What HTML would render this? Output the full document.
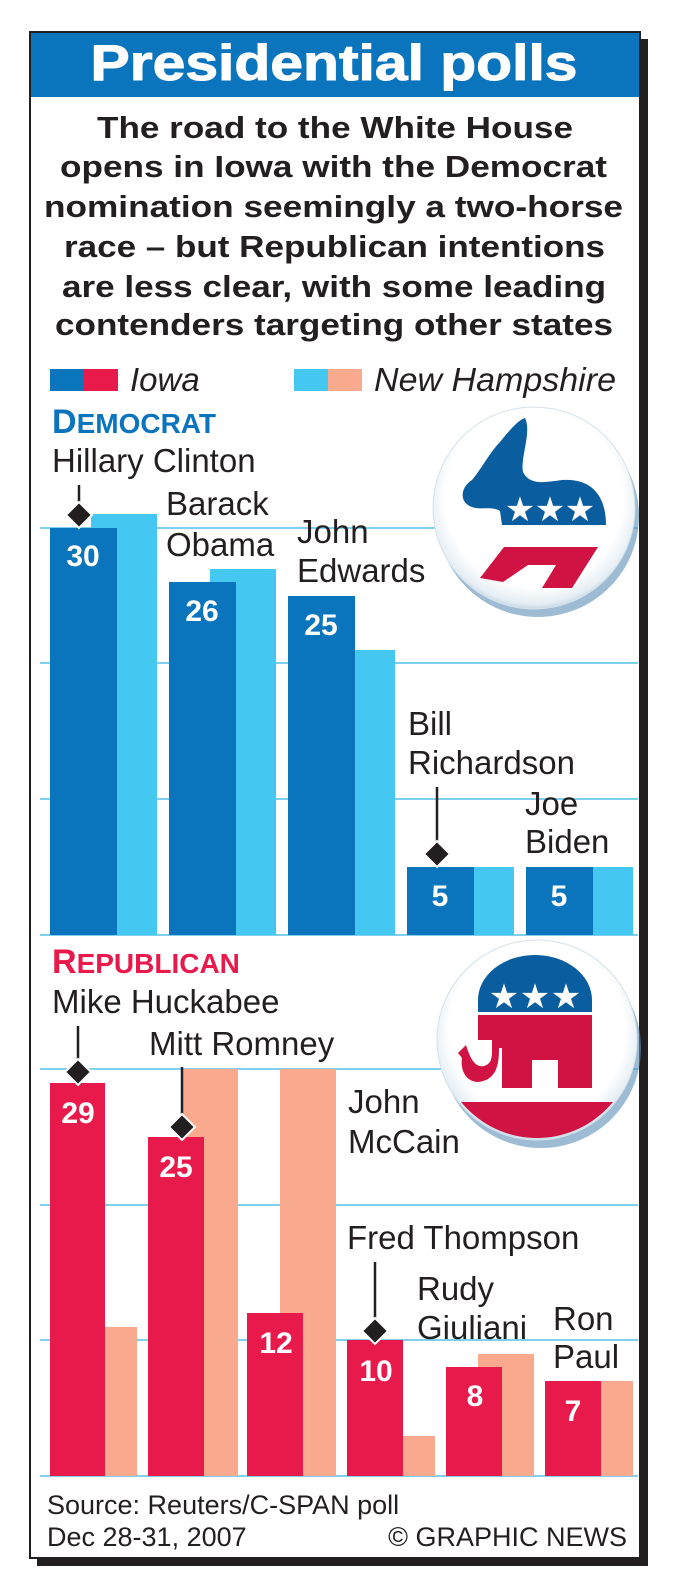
<!DOCTYPE html>
<html><head><meta charset="utf-8"><style>
html,body{margin:0;padding:0;background:#fff;}
svg{display:block;}
text{font-family:"Liberation Sans",Arial,sans-serif;}
</style></head><body>
<svg width="673" height="1594" viewBox="0 0 673 1594" xmlns="http://www.w3.org/2000/svg">
<defs>
<radialGradient id="disc" cx="50%" cy="45%" r="55%">
<stop offset="0.8" stop-color="#ffffff"/><stop offset="0.95" stop-color="#e6eef4"/><stop offset="1" stop-color="#c8d8e4"/>
</radialGradient>
<clipPath id="repclip"><circle cx="537" cy="1040" r="98"/></clipPath>
</defs>
<rect x="37" y="39" width="611" height="1527" fill="#231f20"/>
<rect x="30" y="32" width="610" height="1526" fill="#fff" stroke="#231f20" stroke-width="2"/>
<rect x="31" y="33" width="608" height="64" fill="#0a74bc"/>
<text x="334" y="80" font-size="50" font-weight="bold" fill="#fff" text-anchor="middle" textLength="487" lengthAdjust="spacingAndGlyphs" stroke="#fff" stroke-width="1">Presidential polls</text>
<g font-size="31" font-weight="bold" fill="#231f20" text-anchor="start">
<text x="97" y="138" textLength="476" lengthAdjust="spacingAndGlyphs">The road to the White House</text>
<text x="60" y="177" textLength="547" lengthAdjust="spacingAndGlyphs">opens in Iowa with the Democrat</text>
<text x="44" y="217" textLength="579" lengthAdjust="spacingAndGlyphs">nomination seemingly a two-horse</text>
<text x="64" y="257" textLength="541" lengthAdjust="spacingAndGlyphs">race – but Republican intentions</text>
<text x="62" y="297" textLength="544" lengthAdjust="spacingAndGlyphs">are less clear, with some leading</text>
<text x="55" y="335" textLength="558" lengthAdjust="spacingAndGlyphs">contenders targeting other states</text>
</g>
<rect x="50" y="369" width="34" height="22" fill="#0a74bc"/><rect x="84" y="369" width="34" height="22" fill="#e8194b"/>
<text x="130" y="391" font-size="33" font-style="italic" fill="#231f20">Iowa</text>
<rect x="294" y="369" width="34" height="22" fill="#44c8f2"/><rect x="328" y="369" width="34" height="22" fill="#f8a98e"/>
<text x="374" y="391" font-size="33" font-style="italic" fill="#231f20" textLength="242" lengthAdjust="spacingAndGlyphs">New Hampshire</text>

<text x="52" y="433" font-weight="bold" fill="#0a74bc"><tspan font-size="34">D</tspan><tspan font-size="28">EMOCRAT</tspan></text>
<g stroke="#7fd0ee" stroke-width="2">
<line x1="40" y1="528" x2="638" y2="528"/><line x1="40" y1="663" x2="638" y2="663"/><line x1="40" y1="799" x2="638" y2="799"/><line x1="40" y1="935" x2="638" y2="935"/>
</g>
<g fill="#44c8f2">
<rect x="91" y="514" width="66" height="421"/><rect x="210" y="569" width="66" height="366"/><rect x="329" y="650" width="66" height="285"/><rect x="448" y="867" width="66" height="68"/><rect x="567" y="867" width="66" height="68"/>
</g>
<g fill="#0a74bc">
<rect x="50" y="528" width="67" height="407"/><rect x="169" y="582" width="67" height="353"/><rect x="288" y="596" width="67" height="339"/><rect x="407" y="867" width="67" height="68"/><rect x="526" y="867" width="67" height="68"/>
</g>
<g font-size="30" font-weight="bold" fill="#fff" text-anchor="middle">
<text x="83" y="566">30</text><text x="202" y="621">26</text><text x="321" y="635">25</text><text x="440" y="906">5</text><text x="559" y="906">5</text>
</g>
<g font-size="33" fill="#231f20">
<text x="52" y="472">Hillary Clinton</text>
<text x="166" y="515">Barack</text><text x="166" y="556">Obama</text>
<text x="297" y="543">John</text><text x="297" y="582">Edwards</text>
<text x="408" y="735">Bill</text><text x="408" y="774">Richardson</text>
<text x="525" y="815">Joe</text><text x="525" y="853">Biden</text>
</g>
<g stroke="#231f20" stroke-width="2.5">
<line x1="79" y1="485" x2="79" y2="512"/><line x1="437" y1="787" x2="437" y2="850"/>
</g>
<g fill="#231f20" stroke="#fff" stroke-width="2">
<polygon points="79,502 92,515 79,528 66,515"/><polygon points="437,841 450,854 437,867 424,854"/>
</g>
<circle cx="538" cy="516" r="101" fill="#5b8fb8" opacity="0.6"/>
<circle cx="534" cy="508" r="101" fill="url(#disc)" stroke="#d4e2ec" stroke-width="1"/>
<path d="M525 418 C532 432 520 458 523 472 C530 486 546 482 562 480 C592 478 606 496 606 525 L502 525 L500 511 C490 505 478 512 468 505 C459 499 462 486 472 480 C482 468 490 452 500 442 C510 430 518 420 525 418 Z" fill="#0a5d9f"/>
<g fill="#fff" font-size="34" text-anchor="middle"><text x="520" y="521">★</text><text x="550" y="521">★</text><text x="580" y="521">★</text></g>
<polygon points="504,547 598,547 572,588 542,588 556,565 528,565 503,582 480,578" fill="#d01342"/>

<text x="52" y="973" font-weight="bold" fill="#e8194b"><tspan font-size="34">R</tspan><tspan font-size="28">EPUBLICAN</tspan></text>
<g stroke="#7fd0ee" stroke-width="2">
<line x1="40" y1="1069" x2="638" y2="1069"/><line x1="40" y1="1205" x2="638" y2="1205"/><line x1="40" y1="1340" x2="638" y2="1340"/><line x1="40" y1="1476" x2="638" y2="1476"/>
</g>
<g fill="#f8a98e">
<rect x="83" y="1327" width="54" height="149"/><rect x="182" y="1069" width="56" height="407"/><rect x="280" y="1069" width="56" height="407"/><rect x="380" y="1436" width="55" height="40"/><rect x="478" y="1354" width="56" height="122"/><rect x="578" y="1381" width="55" height="95"/>
</g>
<g fill="#e8194b">
<rect x="50" y="1083" width="55" height="393"/><rect x="148" y="1137" width="56" height="339"/><rect x="247" y="1313" width="56" height="163"/><rect x="347" y="1340" width="56" height="136"/><rect x="446" y="1367" width="56" height="109"/><rect x="545" y="1381" width="56" height="95"/>
</g>
<g font-size="30" font-weight="bold" fill="#fff" text-anchor="middle">
<text x="78" y="1123">29</text><text x="176" y="1177">25</text><text x="276" y="1353">12</text><text x="376" y="1381">10</text><text x="475" y="1406">8</text><text x="573" y="1421">7</text>
</g>
<g font-size="33" fill="#231f20">
<text x="52" y="1013">Mike Huckabee</text>
<text x="149" y="1055">Mitt Romney</text>
<text x="348" y="1113">John</text><text x="348" y="1153">McCain</text>
<text x="347" y="1249">Fred Thompson</text>
<text x="417" y="1300">Rudy</text><text x="417" y="1339">Giuliani</text>
<text x="553" y="1330">Ron</text><text x="553" y="1368">Paul</text>
</g>
<g stroke="#231f20" stroke-width="2.5">
<line x1="78" y1="1026" x2="78" y2="1068"/><line x1="182" y1="1067" x2="182" y2="1122"/><line x1="375" y1="1262" x2="375" y2="1326"/>
</g>
<g fill="#231f20" stroke="#fff" stroke-width="2">
<polygon points="78,1059 91,1072 78,1085 65,1072"/><polygon points="182,1114 195,1127 182,1140 169,1127"/><polygon points="375,1318 388,1331 375,1344 362,1331"/>
</g>
<circle cx="541" cy="1048" r="100" fill="#5b8fb8" opacity="0.6"/>
<circle cx="537" cy="1040" r="100" fill="url(#disc)" stroke="#d4e2ec" stroke-width="1"/>
<g clip-path="url(#repclip)">
<rect x="430" y="1102" width="220" height="60" fill="#d01342"/>
</g>
<path d="M478 1012 L478 1000 A57 45 0 0 1 592 1000 L592 1012 Z" fill="#0a5d9f"/>
<g fill="#fff" font-size="34" text-anchor="middle"><text x="504" y="1008">★</text><text x="535" y="1008">★</text><text x="566" y="1008">★</text></g>
<path d="M478 1015 L592 1015 L592 1088 L558 1088 L558 1060 L532 1060 L532 1088 L502 1088 L502 1048 L499 1048 C499 1062 498 1080 478 1082 C466 1082 460 1070 462 1058 L458 1053 L466 1045 C470 1058 475 1068 484 1066 C492 1064 492 1056 492 1050 L492 1040 L478 1040 Z" fill="#d01342"/>

<text x="47" y="1514" font-size="27" fill="#231f20">Source: Reuters/C-SPAN poll</text>
<text x="47" y="1546" font-size="27" fill="#231f20">Dec 28-31, 2007</text>
<text x="627" y="1546" font-size="27" fill="#231f20" text-anchor="end">© GRAPHIC NEWS</text>
</svg>
</body></html>
